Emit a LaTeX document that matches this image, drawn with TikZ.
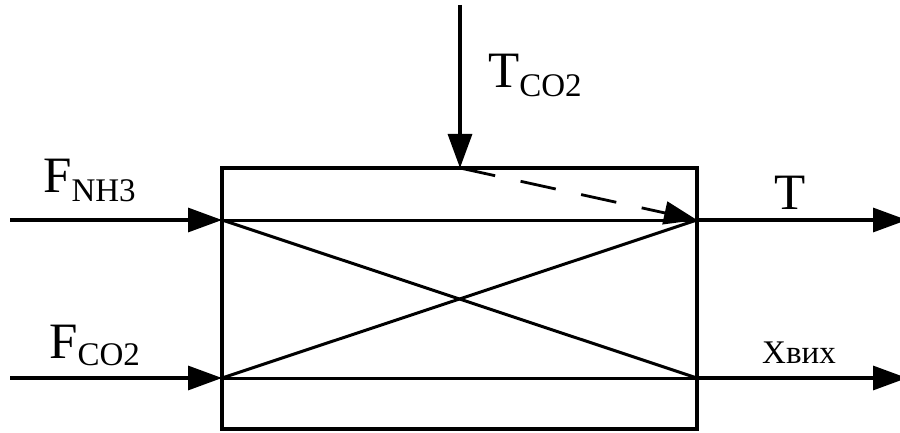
\documentclass[tikz,border=0pt]{standalone}
\usepackage{fontspec}
\setmainfont{Liberation Serif}
\usetikzlibrary{arrows.meta}
\begin{document}
\begin{tikzpicture}[x=1pt,y=-1pt,
  flow/.style={line width=3.2pt,-{Triangle[length=34pt,width=24pt]}},
  boxline/.style={line width=4.6pt},
  thin/.style={line width=3pt},
  lbl/.style={inner sep=0pt,anchor=base west},
  big/.style={font=\fontsize{51}{51}\selectfont},
  small/.style={font=\fontsize{33}{33}\selectfont}]
\useasboundingbox (0,0) rectangle (900,433);
% coordinates
\coordinate (tl) at (222,168);
\coordinate (br) at (697,429);
\coordinate (a1) at (222,220);
\coordinate (b1) at (697,220);
\coordinate (a2) at (222,378);
\coordinate (b2) at (697,378);
\coordinate (top) at (460,168);
\coordinate (topin) at (460,5);
\coordinate (in1) at (10,220);
\coordinate (in2) at (10,378);
\coordinate (out1) at (907,220);
\coordinate (out2) at (907,378);
% box
\draw[boxline] (tl) rectangle (br);
\draw[thin] (a1) -- (b1);
\draw[thin] (a2) -- (b2);
\draw[thin] (a1) -- (b2);
\draw[thin] (a2) -- (b1);
% arrows
\draw[flow] (in1) -- (a1);
\draw[flow] (in2) -- (a2);
\draw[flow] (b1) -- (out1);
\draw[flow] (b2) -- (out2);
\draw[flow] (topin) -- (top);
\draw[line width=2.8pt,dash pattern=on 36pt off 26pt,-{Triangle[length=33pt,width=23pt]}] (top) -- (b1);
% labels
\node[lbl,big] (fnh3) at (43,193) {F\raisebox{-9pt}{\fontsize{33}{33}\selectfont NH3}};
\node[lbl,big] (fco2) at (49,358) {F\raisebox{-7pt}{\fontsize{33}{33}\selectfont CO2}};
\node[lbl,big] (tco2) at (488,88) {T\raisebox{-9pt}{\fontsize{33}{33}\selectfont CO2}};
\node[lbl,big] (tout) at (774,210) {T};
\node[lbl,small] (xout) at (762,363) {Xвих};
\end{tikzpicture}
\end{document}
